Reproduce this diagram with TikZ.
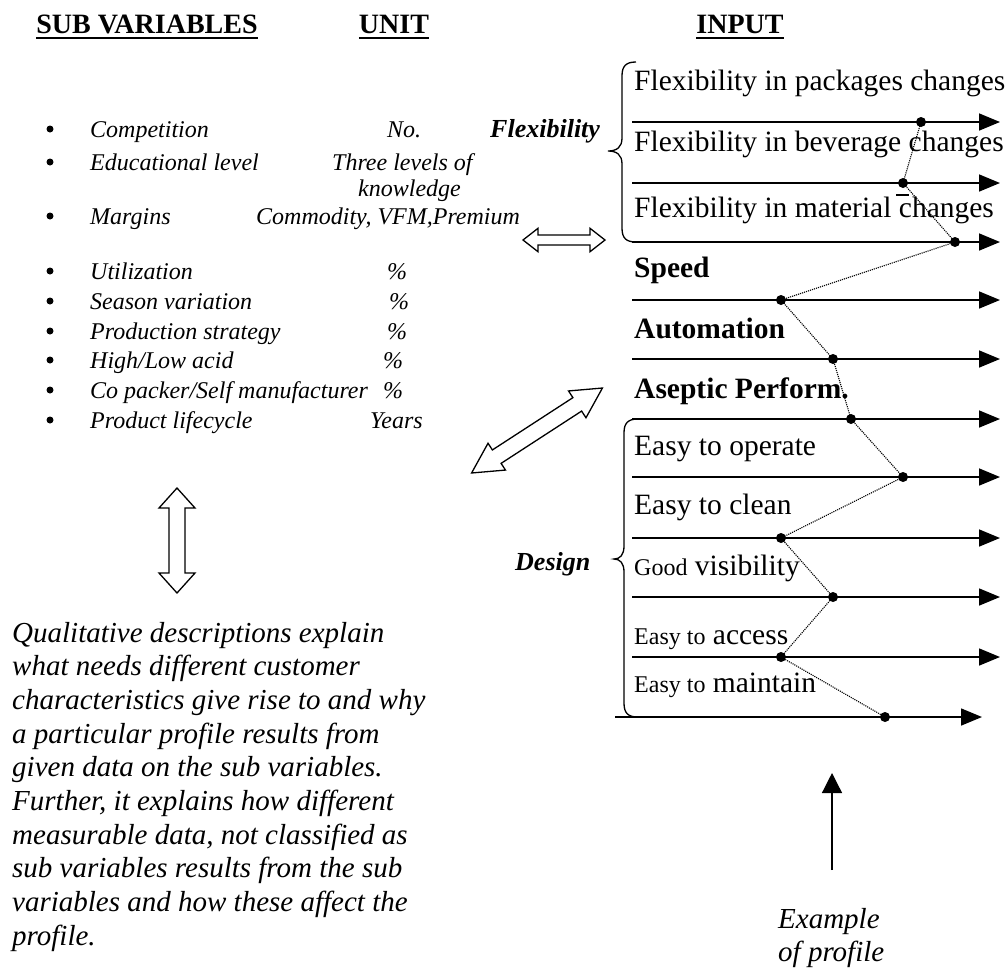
\documentclass[tikz,border=0pt]{standalone}
\usepackage{fontspec}
\setmainfont{Liberation Serif}
\usetikzlibrary{arrows.meta,calc}

\newcommand\fsz[1]{\fontsize{#1}{#1}\selectfont}
% outlined double block arrow: centre x, centre y, angle, half length,
% shaft half width, head half width, head length
\newcommand\blockarr[7]{%
  \begin{scope}[shift={(#1,#2)},rotate=#3]
    \draw[blk] ({-#4},0) -- ({-#4+#7},#6) -- ({-#4+#7},#5) -- ({#4-#7},#5)
      -- ({#4-#7},#6) -- ({#4},0) -- ({#4-#7},{-#6}) -- ({#4-#7},{-#5})
      -- ({-#4+#7},{-#5}) -- ({-#4+#7},{-#6}) -- cycle;
  \end{scope}}

\begin{document}
\begin{tikzpicture}[x=1pt,y=-1pt,
  hdr/.style={font=\fsz{28}\bfseries, anchor=base, inner sep=0},
  lst/.style={font=\fsz{24}\itshape, anchor=base west, inner sep=0},
  bul/.style={circle, fill, inner sep=0, minimum size=7},
  inp/.style={font=\fsz{29.5}, anchor=base west, inner sep=0},
  inpb/.style={font=\fsz{29.5}\bfseries, anchor=base west, inner sep=0},
  grp/.style={font=\fsz{26}\bfseries\itshape, anchor=base west, inner sep=0},
  txt/.style={font=\fsz{29}\itshape, anchor=base west, inner sep=0},
  axis/.style={line width=1.6, -{Triangle[length=21pt,width=17pt]}},
  prof/.style={densely dotted, line width=1.1},
  pt/.style={circle, fill, inner sep=0, minimum size=10},
  brc/.style={line width=1.3},
  blk/.style={draw, line width=1.3, fill=white, line join=miter}]
\useasboundingbox (0,0) rectangle (1008,970);

% column headings
\node[hdr] (hsub)  at (147,33) {SUB VARIABLES};
\node[hdr] (hunit) at (394,33) {UNIT};
\node[hdr] (hin)   at (740,33) {INPUT};
\foreach \h in {hsub,hunit,hin}
  \draw[line width=2.8] ($(\h.base west)+(0,5)$) -- ($(\h.base east)+(0,5)$);

% sub variables and their units
\node[bul] (b1) at (50,129) {};
\node[lst] (v1) at (90,137) {Competition};
\node[lst] (u1) at (387,137) {No.};
\node[bul] (b2) at (50,162) {};
\node[lst] (v2) at (90,170) {Educational level};
\node[lst] (u2) at (332,170) {Three levels of};
\node[lst] (u2b) at (358,196) {knowledge};
\node[bul] (b3) at (50,216) {};
\node[lst] (v3) at (90,224) {Margins};
\node[lst] (u3) at (256,224) {Commodity, VFM,Premium};
\node[bul] (b4) at (50,271) {};
\node[lst] (v4) at (90,279) {Utilization};
\node[lst] (u4) at (387,279) {\%};
\node[bul] (b5) at (50,301) {};
\node[lst] (v5) at (90,309) {Season variation};
\node[lst] (u5) at (389,309) {\%};
\node[bul] (b6) at (50,331) {};
\node[lst] (v6) at (90,339) {Production strategy};
\node[lst] (u6) at (387,339) {\%};
\node[bul] (b7) at (50,360) {};
\node[lst] (v7) at (90,368) {High/Low acid};
\node[lst] (u7) at (383,368) {\%};
\node[bul] (b8) at (50,390) {};
\node[lst] (v8) at (90,398) {Co packer/Self manufacturer};
\node[lst] (u8) at (383,398) {\%};
\node[bul] (b9) at (50,420) {};
\node[lst] (v9) at (90,428) {Product lifecycle};
\node[lst] (u9) at (370,428) {Years};

% group labels
\node[grp] (gflex) at (490,137) {Flexibility};
\node[grp] (gdes)  at (515,570) {Design};

% input axes with the profile points
\foreach \i/\y/\dx in {1/122/921, 2/183/903, 3/242/955, 4/300/781, 5/359/833,
                       6/419/851, 7/477/903, 8/538/781, 9/597/833, 10/657/781} {
  \coordinate (s\i) at (632,\y);
  \coordinate (e\i) at (1000,\y);
  \draw[axis] (s\i) -- (e\i);
  \node[pt] (d\i) at (\dx,\y) {};
}
\coordinate (s11) at (615,717);
\coordinate (e11) at (982,717);
\draw[axis] (s11) -- (e11);
\node[pt] (d11) at (885,717) {};

\draw[prof] (d1.center) -- (d2.center) -- (d3.center) -- (d4.center)
  -- (d5.center) -- (d6.center) -- (d7.center) -- (d8.center)
  -- (d9.center) -- (d10.center) -- (d11.center);
\draw[line width=1.5] (896,195) -- (909,195);

% input labels
\node[inp]  (i1)  at (634,90)  {Flexibility in packages changes};
\node[inp]  (i2)  at (634,151) {Flexibility in beverage changes};
\node[inp]  (i3)  at (634,217) {Flexibility in material changes};
\node[inpb] (i4)  at (634,277) {Speed};
\node[inpb] (i5)  at (634,338) {Automation};
\node[inpb] (i6)  at (634,398) {Aseptic Perform.};
\node[inp]  (i7)  at (634,455) {Easy to operate};
\node[inp]  (i8)  at (634,514) {Easy to clean};
\node[inp]  (i9)  at (634,575) {{\fsz{24}Good} visibility};
\node[inp]  (i10) at (634,644) {{\fsz{24}Easy to} access};
\node[inp]  (i11) at (634,692) {{\fsz{24}Easy to} maintain};

% braces
\draw[brc] (636,62) .. controls (626,62) and (622,66) .. (622,76) -- (622,138)
  .. controls (622,147) and (617,151) .. (608,151)
  .. controls (617,151) and (622,155) .. (622,164) -- (622,228)
  .. controls (622,238) and (626,242) .. (636,242);
\draw[brc] (638,419) .. controls (628,419) and (624,423) .. (624,433) -- (624,546)
  .. controls (624,555) and (620,559) .. (614,559)
  .. controls (620,559) and (624,563) .. (624,572) -- (624,703)
  .. controls (624,713) and (628,717) .. (638,717);

% block arrows
\blockarr{564}{240}{0}{41}{5}{11.7}{15}
\blockarr{537}{430.5}{33}{78}{8}{16}{30}
\blockarr{177}{540.5}{90}{52.5}{8}{18}{20}

% explanation
\foreach \t [count=\k] in {Qualitative descriptions explain,
  what needs different customer,
  characteristics give rise to and why,
  a particular profile results from,
  given data on the sub variables.,
  {Further, it explains how different},
  {measurable data, not classified as},
  sub variables results from the sub,
  variables and how these affect the,
  profile.}
  \node[txt] (q\k) at (12,{642+33.7*(\k-1)}) {\t};

% profile pointer
\node[txt] (ex1) at (778,928) {Example};
\node[txt] (ex2) at (778,961) {of profile};
\coordinate (pa) at (832,870);
\coordinate (pb) at (832,773);
\draw[line width=1.3, -{Triangle[length=20pt,width=20pt]}] (pa) -- (pb);
\end{tikzpicture}
\end{document}
